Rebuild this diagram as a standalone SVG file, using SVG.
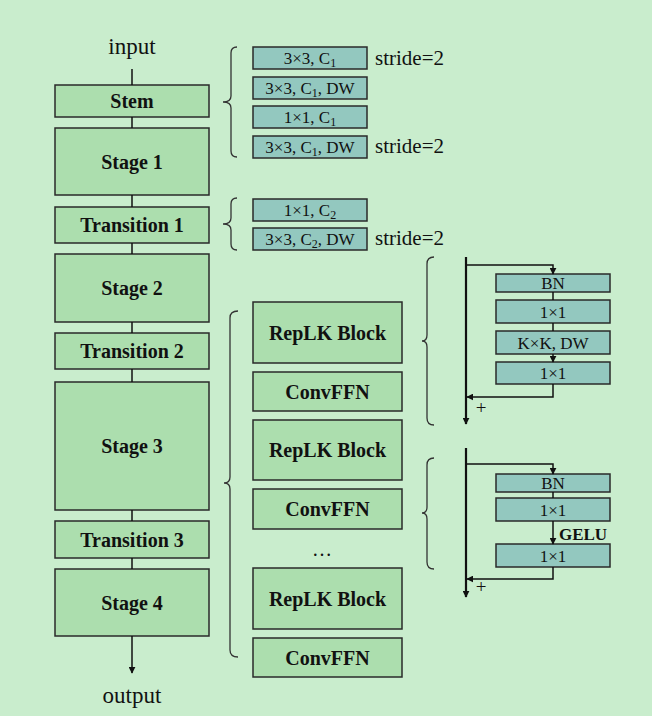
<svg xmlns="http://www.w3.org/2000/svg" width="652" height="716" viewBox="0 0 652 716">
<defs>
<marker id="ah" viewBox="0 0 10 10" refX="9" refY="5" markerWidth="7" markerHeight="7" markerUnits="userSpaceOnUse" orient="auto"><path d="M0,0 L10,5 L0,10 z" fill="#111"/></marker>
<style>
.bg{fill:#c9edcd}
.box{fill:#acdeae;stroke:#2a2a2a;stroke-width:1.5}
.tb{fill:#93c8bf;stroke:#2a2a2a;stroke-width:1.5}
.lbl{font-family:"Liberation Serif","Times New Roman",serif;font-weight:bold;font-size:20px;fill:#111;text-anchor:middle}
.sm{font-family:"Liberation Serif","Times New Roman",serif;font-size:17px;fill:#111;text-anchor:middle}
.sub{font-size:12px}
.rg{font-family:"Liberation Serif","Times New Roman",serif;font-size:21px;fill:#111}
.io{font-family:"Liberation Serif","Times New Roman",serif;font-size:23px;fill:#111;text-anchor:middle}
.pl{font-family:"Liberation Serif","Times New Roman",serif;font-size:19px;fill:#111;text-anchor:middle}
.ln{stroke:#111;stroke-width:1.5;fill:none}
.th{stroke:#111;stroke-width:2.2;fill:none}
.br{stroke:#333;stroke-width:1.3;fill:none}
</style>
</defs>
<rect class="bg" x="0" y="0" width="652" height="716"/>

<text class="io" x="132" y="54">input</text>
<text class="io" x="132" y="703">output</text>

<g id="stem"><rect class="box" x="55" y="85" width="154" height="32"/><text class="lbl" x="132" y="108">Stem</text></g>
<g id="stage1"><rect class="box" x="55" y="128" width="154" height="67"/><text class="lbl" x="132" y="168.5">Stage 1</text></g>
<g id="transition1"><rect class="box" x="55" y="207" width="154" height="36"/><text class="lbl" x="132" y="232">Transition 1</text></g>
<g id="stage2"><rect class="box" x="55" y="254" width="154" height="68"/><text class="lbl" x="132" y="295">Stage 2</text></g>
<g id="transition2"><rect class="box" x="55" y="333" width="154" height="36"/><text class="lbl" x="132" y="358">Transition 2</text></g>
<g id="stage3"><rect class="box" x="55" y="382" width="154" height="128"/><text class="lbl" x="132" y="453">Stage 3</text></g>
<g id="transition3"><rect class="box" x="55" y="521" width="154" height="37"/><text class="lbl" x="132" y="546.5">Transition 3</text></g>
<g id="stage4"><rect class="box" x="55" y="569" width="154" height="67"/><text class="lbl" x="132" y="609.5">Stage 4</text></g>

<g id="stem-detail">
<rect class="tb" x="253" y="47" width="114" height="22"/><text class="sm" x="310" y="64">3×3, C<tspan class="sub" dy="3">1</tspan></text>
<rect class="tb" x="253" y="77" width="114" height="22"/><text class="sm" x="310" y="94">3×3, C<tspan class="sub" dy="3">1</tspan><tspan dy="-3">, DW</tspan></text>
<rect class="tb" x="253" y="106" width="114" height="22"/><text class="sm" x="310" y="123">1×1, C<tspan class="sub" dy="3">1</tspan></text>
<rect class="tb" x="253" y="136" width="114" height="22"/><text class="sm" x="310" y="153">3×3, C<tspan class="sub" dy="3">1</tspan><tspan dy="-3">, DW</tspan></text>
<text class="rg" x="375" y="65">stride=2</text>
<text class="rg" x="375" y="153">stride=2</text>
</g>

<g id="transition-detail">
<rect class="tb" x="253" y="199" width="114" height="22"/><text class="sm" x="310" y="216">1×1, C<tspan class="sub" dy="3">2</tspan></text>
<rect class="tb" x="253" y="228" width="114" height="22"/><text class="sm" x="310" y="245">3×3, C<tspan class="sub" dy="3">2</tspan><tspan dy="-3">, DW</tspan></text>
<text class="rg" x="375" y="245">stride=2</text>
</g>

<g id="stage-blocks">
<g id="replk1"><rect class="box" x="253" y="302" width="149" height="61"/><text class="lbl" x="327.5" y="339.5">RepLK Block</text></g>
<g id="convffn1"><rect class="box" x="253" y="372" width="149" height="39"/><text class="lbl" x="327.5" y="398.5">ConvFFN</text></g>
<g id="replk2"><rect class="box" x="253" y="420" width="149" height="60"/><text class="lbl" x="327.5" y="457">RepLK Block</text></g>
<g id="convffn2"><rect class="box" x="253" y="489" width="149" height="40"/><text class="lbl" x="327.5" y="516">ConvFFN</text></g>
<text class="lbl" x="322" y="556" style="font-weight:normal">…</text>
<g id="replk3"><rect class="box" x="253" y="568" width="149" height="61"/><text class="lbl" x="327.5" y="605.5">RepLK Block</text></g>
<g id="convffn3"><rect class="box" x="253" y="638" width="149" height="39"/><text class="lbl" x="327.5" y="664.5">ConvFFN</text></g>
</g>

<g id="replk-detail">
<rect class="tb" x="496" y="274" width="114" height="18"/><text class="sm" x="553" y="289">BN</text>
<rect class="tb" x="496" y="300" width="114" height="23"/><text class="sm" x="553" y="317.5">1×1</text>
<rect class="tb" x="496" y="331" width="114" height="23"/><text class="sm" x="553" y="348.5">K×K, DW</text>
<rect class="tb" x="496" y="362" width="114" height="22"/><text class="sm" x="553" y="379">1×1</text>
<text class="pl" x="481" y="414">+</text>
</g>

<g id="convffn-detail">
<rect class="tb" x="496" y="474" width="114" height="18"/><text class="sm" x="553" y="489">BN</text>
<rect class="tb" x="496" y="498" width="114" height="23"/><text class="sm" x="553" y="515.5">1×1</text>
<rect class="tb" x="496" y="544" width="114" height="23"/><text class="sm" x="553" y="561.5">1×1</text>
<text class="lbl" x="583" y="540" style="font-size:17px">GELU</text>
<text class="pl" x="481" y="593">+</text>
</g>

<g id="connectors">
<line class="ln" x1="132" y1="69" x2="132" y2="85"/>
<line class="ln" x1="132" y1="117" x2="132" y2="128"/>
<line class="ln" x1="132" y1="195" x2="132" y2="207"/>
<line class="ln" x1="132" y1="243" x2="132" y2="254"/>
<line class="ln" x1="132" y1="322" x2="132" y2="333"/>
<line class="ln" x1="132" y1="369" x2="132" y2="382"/>
<line class="ln" x1="132" y1="510" x2="132" y2="521"/>
<line class="ln" x1="132" y1="558" x2="132" y2="569"/>
<line class="ln" x1="132" y1="636" x2="132" y2="673" marker-end="url(#ah)"/>

<path class="br" d="M237,47 Q231,47 231,53 L231,96 Q231,102 223,102 Q231,102 231,108 L231,151 Q231,157 237,157"/>
<path class="br" d="M237,198 Q231,198 231,204 L231,218 Q231,224 223,224 Q231,224 231,230 L231,244 Q231,250 237,250"/>
<path class="br" d="M238,311 Q230,311 230,318 L230,477 Q230,483 224,483 Q230,483 230,489 L230,650 Q230,657 238,657"/>
<path class="br" d="M434,257 Q427,257 427,264 L427,335 Q427,341 422,341 Q427,341 427,347 L427,418 Q427,425 434,425"/>
<path class="br" d="M434,458 Q427,458 427,465 L427,507 Q427,513 422,513 Q427,513 427,519 L427,562 Q427,569 434,569"/>

<line class="th" x1="466" y1="257" x2="466" y2="424" marker-end="url(#ah)"/>
<polyline class="ln" points="466,265 553,265 553,274" marker-end="url(#ah)"/>
<line class="ln" x1="553" y1="292" x2="553" y2="300"/>
<line class="ln" x1="553" y1="323" x2="553" y2="331"/>
<line class="ln" x1="553" y1="354" x2="553" y2="362" marker-end="url(#ah)"/>
<polyline class="ln" points="553,384 553,397 467,397" marker-end="url(#ah)"/>

<line class="th" x1="466" y1="448" x2="466" y2="597" marker-end="url(#ah)"/>
<polyline class="ln" points="466,464 553,464 553,474" marker-end="url(#ah)"/>
<line class="ln" x1="553" y1="492" x2="553" y2="498"/>
<line class="ln" x1="553" y1="521" x2="553" y2="544" marker-end="url(#ah)"/>
<polyline class="ln" points="553,567 553,579 467,579" marker-end="url(#ah)"/>
</g>
</svg>
